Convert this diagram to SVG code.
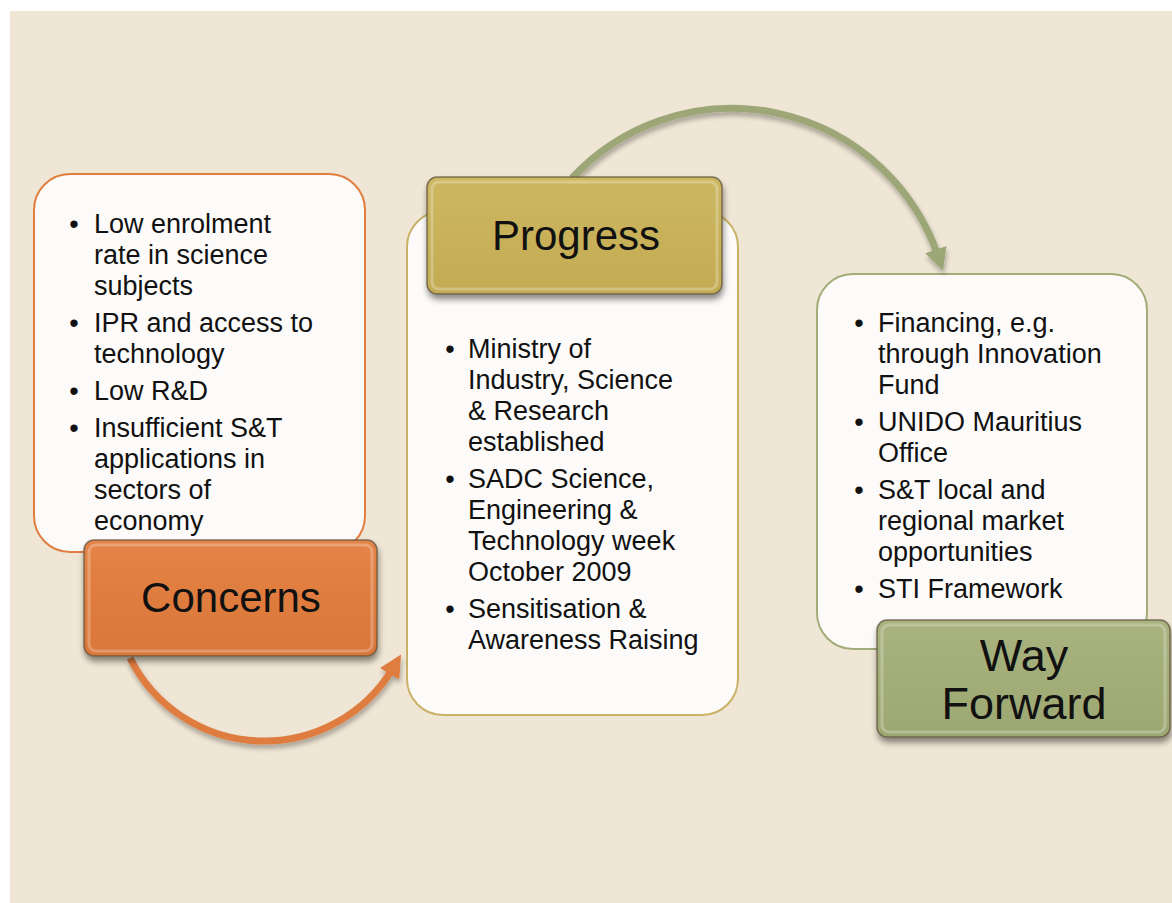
<svg xmlns="http://www.w3.org/2000/svg" width="1172" height="903" viewBox="0 0 1172 903">
<defs>
<style>
.body{font-family:"Liberation Sans",Arial,sans-serif;font-size:27px;fill:#111}
.bul{font-family:"Liberation Sans",Arial,sans-serif;font-size:27px;fill:#111;text-anchor:middle}
.lbl{font-family:"Liberation Sans",Arial,sans-serif;font-size:42px;fill:#111;text-anchor:middle}
.lbl2{font-family:"Liberation Sans",Arial,sans-serif;font-size:45px;fill:#111;text-anchor:middle}
.tbox{fill:#FCFBF9;stroke-width:2}
.lab{stroke:#5E5038;stroke-opacity:0.75;stroke-width:1.5}
.inner{fill:none;stroke:#ffffff;stroke-opacity:0.25;stroke-width:3}
</style>
<filter id="sh" x="-20%" y="-20%" width="140%" height="150%">
<feGaussianBlur in="SourceAlpha" stdDeviation="3"/>
<feOffset dx="1" dy="5" result="b"/>
<feComponentTransfer><feFuncA type="linear" slope="0.45"/></feComponentTransfer>
<feMerge><feMergeNode/><feMergeNode in="SourceGraphic"/></feMerge>
</filter>
<filter id="ash" x="-20%" y="-20%" width="140%" height="150%">
<feGaussianBlur in="SourceAlpha" stdDeviation="2.5"/>
<feOffset dx="1" dy="4"/>
<feComponentTransfer><feFuncA type="linear" slope="0.3"/></feComponentTransfer>
<feMerge><feMergeNode/><feMergeNode in="SourceGraphic"/></feMerge>
</filter>
<linearGradient id="gO" x1="0" y1="0" x2="0" y2="1">
<stop offset="0" stop-color="#E58448"/><stop offset="0.5" stop-color="#DF7C3E"/><stop offset="1" stop-color="#D9763A"/>
</linearGradient>
<linearGradient id="gP" x1="0" y1="0" x2="0" y2="1">
<stop offset="0" stop-color="#CDB862"/><stop offset="0.5" stop-color="#C8B159"/><stop offset="1" stop-color="#C2AB54"/>
</linearGradient>
<linearGradient id="gW" x1="0" y1="0" x2="0" y2="1">
<stop offset="0" stop-color="#A9B37F"/><stop offset="0.5" stop-color="#A3AD78"/><stop offset="1" stop-color="#9DA772"/>
</linearGradient>
<marker id="mO" viewBox="0 0 10 10" refX="3" refY="5" markerWidth="3.2" markerHeight="3.2" orient="auto" markerUnits="strokeWidth">
<path d="M0,0 L10,5 L0,10 z" fill="#DF7B3F"/>
</marker>
<marker id="mG" viewBox="0 0 10 10" refX="3" refY="5" markerWidth="3.2" markerHeight="3.2" orient="auto" markerUnits="strokeWidth">
<path d="M0,0 L10,5 L0,10 z" fill="#9CA677"/>
</marker>
</defs>

<rect x="0" y="0" width="1172" height="903" fill="#ffffff"/>
<rect x="10" y="11" width="1162" height="892" fill="#EFE6D5"/>

<g id="concerns-text">
<rect class="tbox" x="34" y="174" width="331" height="378" rx="36" stroke="#E07D3F"/>
<text class="bul" x="74" y="233">•</text>
<text class="bul" x="74" y="332">•</text>
<text class="bul" x="74" y="400">•</text>
<text class="bul" x="74" y="437">•</text>
<text class="body" x="94" y="233">Low enrolment</text>
<text class="body" x="94" y="264">rate in science</text>
<text class="body" x="94" y="295">subjects</text>
<text class="body" x="94" y="332">IPR and access to</text>
<text class="body" x="94" y="363">technology</text>
<text class="body" x="94" y="400">Low R&amp;D</text>
<text class="body" x="94" y="437">Insufficient S&amp;T</text>
<text class="body" x="94" y="468">applications in</text>
<text class="body" x="94" y="499">sectors of</text>
<text class="body" x="94" y="530">economy</text>
</g>

<g id="progress-text">
<rect class="tbox" x="407" y="211" width="331" height="504" rx="36" stroke="#C9B267"/>
<text class="bul" x="450" y="358">•</text>
<text class="bul" x="450" y="488">•</text>
<text class="bul" x="450" y="618">•</text>
<text class="body" x="468" y="358">Ministry of</text>
<text class="body" x="468" y="389">Industry, Science</text>
<text class="body" x="468" y="420">&amp; Research</text>
<text class="body" x="468" y="451">established</text>
<text class="body" x="468" y="488">SADC Science,</text>
<text class="body" x="468" y="519">Engineering &amp;</text>
<text class="body" x="468" y="550">Technology week</text>
<text class="body" x="468" y="581">October 2009</text>
<text class="body" x="468" y="618">Sensitisation &amp;</text>
<text class="body" x="468" y="649">Awareness Raising</text>
</g>

<g id="wayforward-text">
<rect class="tbox" x="817" y="274" width="330" height="375" rx="36" stroke="#A2AC78"/>
<text class="bul" x="859" y="332">•</text>
<text class="bul" x="859" y="431">•</text>
<text class="bul" x="859" y="499">•</text>
<text class="bul" x="859" y="598">•</text>
<text class="body" x="878" y="332">Financing, e.g.</text>
<text class="body" x="878" y="363">through Innovation</text>
<text class="body" x="878" y="394">Fund</text>
<text class="body" x="878" y="431">UNIDO Mauritius</text>
<text class="body" x="878" y="462">Office</text>
<text class="body" x="878" y="499">S&amp;T local and</text>
<text class="body" x="878" y="530">regional market</text>
<text class="body" x="878" y="561">opportunities</text>
<text class="body" x="878" y="598">STI Framework</text>
</g>

<g id="connectors" fill="none" stroke-width="7">
<path d="M130,658 A150,150 0 0 0 393,668" stroke="#DF7B3F" marker-end="url(#mO)" filter="url(#ash)"/>
<path d="M572,178 A218,218 0 0 1 938,256" stroke="#9CA677" marker-end="url(#mG)" filter="url(#ash)"/>
</g>

<g id="concerns">
<rect class="lab" x="84" y="540" width="293" height="116" rx="10" fill="url(#gO)" filter="url(#sh)"/>
<rect class="inner" x="89" y="545" width="283" height="106" rx="7"/>
<text class="lbl" x="231" y="612">Concerns</text>
</g>

<g id="progress">
<rect class="lab" x="427" y="177" width="295" height="117" rx="10" fill="url(#gP)" filter="url(#sh)"/>
<rect class="inner" x="432" y="182" width="285" height="107" rx="7"/>
<text class="lbl" x="576" y="250">Progress</text>
</g>

<g id="way-forward">
<rect class="lab" x="877" y="620" width="293" height="117" rx="10" fill="url(#gW)" filter="url(#sh)"/>
<rect class="inner" x="882" y="625" width="283" height="107" rx="7"/>
<text class="lbl2" x="1024" y="671">Way</text>
<text class="lbl2" x="1024" y="719">Forward</text>
</g>
</svg>
